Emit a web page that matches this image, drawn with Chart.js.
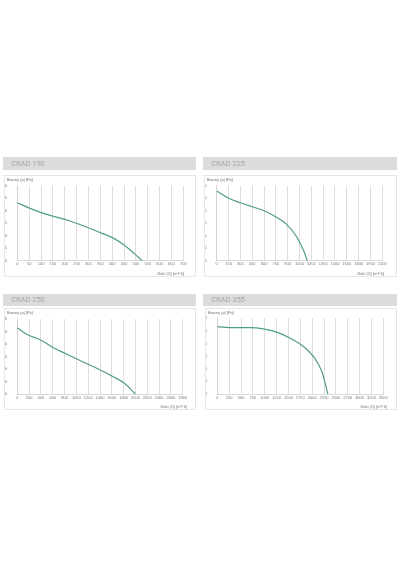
<!DOCTYPE html>
<html>
<head>
<meta charset="utf-8">
<script src="https://cdn.jsdelivr.net/npm/chart.js@4.4.1/dist/chart.umd.min.js"></script>
<style>
  body { margin: 0; background: #fff; width: 400px; height: 570px; position: relative; overflow: hidden; font-family: Roboto, "DejaVu Sans", sans-serif; }
  .head { position: absolute; background: #dcdcdc; color: #a9a9a9; font-size: 7.5px; line-height: 13px; padding-left: 8px; box-sizing: border-box; }
  .box { position: absolute; border: 1px solid #e6e6e6; box-sizing: border-box; }
  canvas { position: absolute; }
  .lbl { position: absolute; font-size: 4px; color: #777; white-space: nowrap; }
</style>
</head>
<body>
<div class="head" style="left:3px;top:157px;width:193px;height:13px;">CRAD 190</div>
<div class="head" style="left:203px;top:157px;width:194px;height:13px;">CRAD 225</div>
<div class="head" style="left:3px;top:294px;width:193px;height:12px;line-height:12px;">CRAD 250</div>
<div class="head" style="left:203px;top:294px;width:194px;height:12px;line-height:12px;">CRAD 355</div>

<div class="box" style="left:4px;top:175px;width:192px;height:102px;"></div>
<div class="box" style="left:204px;top:175px;width:193px;height:102px;"></div>
<div class="box" style="left:4px;top:308px;width:192px;height:102px;"></div>
<div class="box" style="left:205px;top:308px;width:192px;height:102px;"></div>

<canvas id="c190" style="left:5px;top:176px;width:190px;height:100px;"></canvas>
<canvas id="c225" style="left:205px;top:176px;width:191px;height:100px;"></canvas>
<canvas id="c250" style="left:5px;top:309px;width:190px;height:100px;"></canvas>
<canvas id="c355" style="left:206px;top:309px;width:190px;height:100px;"></canvas>

<span class="lbl" style="left:7px;top:177px;">Basınç (p) [Pa]</span>
<span class="lbl" style="left:207px;top:177px;">Basınç (p) [Pa]</span>
<span class="lbl" style="left:7px;top:310px;">Basınç (p) [Pa]</span>
<span class="lbl" style="left:208px;top:310px;">Basınç (p) [Pa]</span>
<span class="lbl" style="right:216px;top:271px;">Debi (Q) [m³/h]</span>
<span class="lbl" style="right:16px;top:271px;">Debi (Q) [m³/h]</span>
<span class="lbl" style="right:213px;top:404px;">Debi (Q) [m³/h]</span>
<span class="lbl" style="right:13px;top:404px;">Debi (Q) [m³/h]</span>

<script>
// CRAD 190
const debi190 = [0, 54, 110, 209, 280, 351, 407, 450, 492, 527];
const basinc190 = [348, 314, 284, 244, 208, 168, 134, 94, 44, 0];
// CRAD 225
const debi225 = [0, 152, 300, 448, 600, 748, 896, 1014, 1099, 1149];
const basinc225 = [557, 499, 464, 432, 400, 352, 285, 192, 85, 0];
// CRAD 250
const debi250 = [0, 158, 394, 608, 834, 1115, 1397, 1600, 1803, 2000];
const basinc250 = [796, 716, 648, 556, 480, 384, 290, 215, 134, 0];
// CRAD 355
const debi355 = [0, 338, 690, 972, 1254, 1535, 1817, 2028, 2204, 2331];
const basinc355 = [267, 263, 263, 258, 245, 221, 188, 148, 89, 0];

const eksenX = { c190: [700, 50], c225: [2100, 150], c250: [2800, 200], c355: [3500, 250] };
const eksenY = { c190: [450, 75], c225: [600, 100], c250: [900, 150], c355: [300, 50] };

const cizgiRengi = '#4e9b8c';

function grafikOlustur(id, debi, basinc, geo) {
  const puanlar = debi.map((d, i) => ({ x: d, y: basinc[i] }));
  return new Chart(document.getElementById(id).getContext('2d'), {
    type: 'line',
    data: {
      datasets: [{
        data: puanlar,
        borderColor: cizgiRengi,
        borderWidth: 1.2,
        pointRadius: 0,
        cubicInterpolationMode: 'monotone',
        fill: false
      }]
    },
    options: {
      responsive: false,
      animation: false,
      events: [],
      layout: { padding: { top: geo.t, right: geo.r, left: 0, bottom: 0 } },
      plugins: { legend: { display: false }, tooltip: { enabled: false } },
      scales: {
        x: {
          type: 'linear',
          min: 0,
          max: eksenX[id][0],
          ticks: { stepSize: eksenX[id][1], font: { size: 4 }, color: '#777', padding: 1, maxRotation: 0, autoSkip: false, callback: v => String(v) },
          grid: { color: '#d6d6d6', lineWidth: 0.8, drawTicks: false },
          border: { color: '#cfcfcf', width: 0.8 },
          afterFit: s => { s.height = geo.b; }
        },
        y: {
          min: 0,
          max: eksenY[id][0],
          ticks: { stepSize: eksenY[id][1], font: { size: 4 }, color: '#777', padding: 2, callback: v => String(v) },
          grid: { display: false },
          border: { color: '#cfcfcf', width: 0.8 },
          afterFit: s => { s.width = geo.l; }
        }
      }
    }
  });
}

grafikOlustur('c190', debi190, basinc190, { l: 12.3, r: 11.7, t: 9.7, b: 15.3 });
grafikOlustur('c225', debi225, basinc225, { l: 11.7, r: 13.7, t: 9.7, b: 15.3 });
grafikOlustur('c250', debi250, basinc250, { l: 12.3, r: 12.3, t: 10, b: 15 });
grafikOlustur('c355', debi355, basinc355, { l: 11.3, r: 12.7, t: 9.3, b: 15 });
</script>
</body>
</html>
